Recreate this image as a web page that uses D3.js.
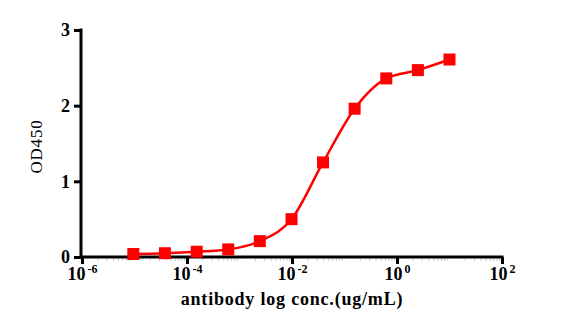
<!DOCTYPE html>
<html>
<head>
<meta charset="utf-8">
<script src="https://cdn.jsdelivr.net/npm/d3@7"></script>
<style>
  body { margin: 0; background: #fff; }
  svg { display: block; }
  svg text { font-family: "Liberation Serif", "DejaVu Serif", serif !important; }
</style>
</head>
<body>
<svg id="chart"></svg>
<script>
// concentrations (ug/mL), 4-fold dilutions
const conc = [9.5e-6, 3.8e-5, 1.53e-4, 6.1e-4, 2.44e-3, 9.8e-3, 0.039, 0.156, 0.625, 2.5, 10];
const od450 = [0.04, 0.05, 0.07, 0.10, 0.21, 0.50, 1.25, 1.96, 2.36, 2.47, 2.61];
const xTicks = [1e-6, 1e-4, 1e-2, 1e0, 1e2];
const xTickExp = ["-6", "-4", "-2", "0", "2"];
const yTicks = [0, 1, 2, 3];

const width = 561, height = 328;
const margin = { top: 30, right: 59, bottom: 71, left: 81 };
const serif = "Liberation Serif, serif";

const svg = d3.select("#chart")
    .attr("width", width)
    .attr("height", height)
    .attr("font-family", serif);

const x = d3.scaleLog()
    .domain([1e-6, 1e2])
    .range([margin.left + 1, width - margin.right]);

const y = d3.scaleLinear()
    .domain([0, 3])
    .range([height - margin.bottom, margin.top]);

const axisY = height - margin.bottom;

// minor ticks on x axis (faint)
let minor = [];
for (let e = -6; e < 2; e++) {
    for (let m = 2; m < 10; m++) minor.push(m * Math.pow(10, e));
}
svg.append("g")
    .selectAll("line")
    .data(minor)
    .join("line")
    .attr("x1", d => x(d)).attr("x2", d => x(d))
    .attr("y1", axisY).attr("y2", axisY + 4)
    .attr("stroke", "#ccc")
    .attr("stroke-width", 1);

// x axis
const gx = svg.append("g")
    .attr("transform", `translate(0, ${axisY})`)
    .call(d3.axisBottom(x).tickValues(xTicks).tickSize(7).tickSizeOuter(0).tickFormat(""))
    .attr("font-family", serif);
gx.select(".domain").attr("stroke-width", 3).attr("d", `M${margin.left - 1},0H${x(1e2) + 1.5}`);
gx.selectAll(".tick line").attr("stroke-width", 3);

gx.selectAll(".tick")
    .append("text")
    .attr("y", 23)
    .attr("fill", "#000")
    .attr("font-size", 18)
    .attr("font-weight", "bold")
    .attr("text-anchor", "middle")
    .each(function(d, i) {
        const t = d3.select(this);
        t.append("tspan").text("10");
        t.append("tspan").attr("dx", 2).attr("dy", -7).attr("font-size", 12).text(xTickExp[i]);
    });

// y axis
const gy = svg.append("g")
    .attr("transform", `translate(${margin.left}, 0)`)
    .call(d3.axisLeft(y).tickValues(yTicks).tickSize(7).tickSizeOuter(0).tickFormat(d3.format("d")))
    .attr("font-family", serif);
gy.select(".domain").attr("stroke-width", 3).attr("d", `M0,${y(3) - 1.5}V${axisY}`);
gy.selectAll(".tick line").attr("stroke-width", 3);
gy.selectAll(".tick text")
    .attr("x", -11)
    .attr("font-size", 18)
    .attr("font-weight", "bold")
    .attr("fill", "#000");

// axis titles
svg.append("text")
    .attr("x", x(1e-2))
    .attr("y", 305)
    .attr("text-anchor", "middle")
    .attr("font-size", 18)
    .attr("font-weight", "bold")
    .attr("letter-spacing", 0.8)
    .text("antibody log conc.(ug/mL)");

svg.append("text")
    .attr("transform", `translate(42, ${y(1.5) + 3}) rotate(-90)`)
    .attr("text-anchor", "middle")
    .attr("font-size", 17)
    .attr("letter-spacing", 0.8)
    .text("OD450");

// fitted curve through the points
const data = conc.map((c, i) => ({ c, v: od450[i] }));
const line = d3.line()
    .x(d => x(d.c))
    .y(d => y(d.v))
    .curve(d3.curveMonotoneX);

svg.append("path")
    .datum(data)
    .attr("fill", "none")
    .attr("stroke", "#ff0000")
    .attr("stroke-width", 2.5)
    .attr("d", line);

const s = 12;
svg.append("g")
    .selectAll("rect")
    .data(data)
    .join("rect")
    .attr("x", d => x(d.c) - s / 2)
    .attr("y", d => y(d.v) - s / 2)
    .attr("width", s)
    .attr("height", s)
    .attr("fill", "#ff0000");
</script>
</body>
</html>
